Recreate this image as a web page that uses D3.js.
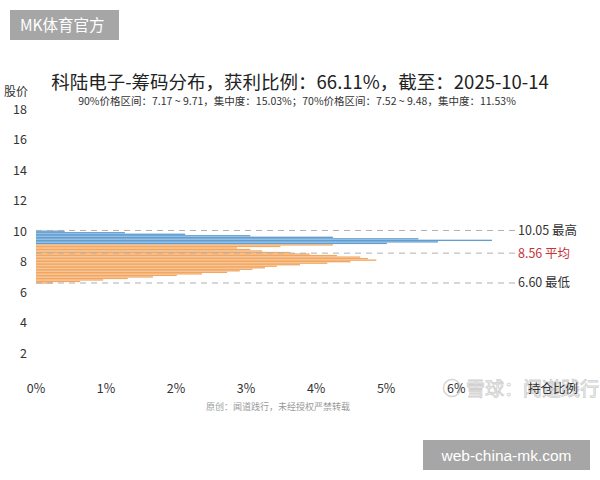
<!DOCTYPE html>
<html>
<head>
<meta charset="utf-8">
<script src="https://cdn.jsdelivr.net/npm/d3@7"></script>
<style>
  body { margin: 0; background: #fff; }
  svg { display: block; font-family: "Noto Sans CJK SC", "Noto Sans", sans-serif; }
</style>
</head>
<body>
<svg id="chart" width="600" height="480"></svg>
<script>
// chip distribution: price bins (step 0.1) and holding share in %
const prices = [6.6, 6.7, 6.8, 6.9, 7.0, 7.1, 7.2, 7.3, 7.4, 7.5, 7.6, 7.7, 7.8, 7.9, 8.0, 8.1, 8.2, 8.3,
                8.4, 8.5, 8.6, 8.7, 8.8, 8.9, 9.0, 9.1, 9.2, 9.3, 9.4, 9.5, 9.6, 9.7, 9.8, 9.9, 10.0];
const shares = [0.24, 0.63, 0.96, 1.31, 1.67, 2.01, 2.37, 2.73, 2.91, 3.09, 3.27, 3.44, 3.77, 4.16, 4.49, 4.86, 4.74, 4.63,
                4.30, 3.91, 3.63, 3.23, 3.06, 2.87, 3.49, 4.24, 5.01, 5.74, 6.51, 5.46, 4.24, 3.06, 2.13, 1.27, 0.41];
const currentPrice = 9.15;   // below = profit (orange), above = trapped (blue)

const markLines = [
  { value: 10.05, label: "10.05 最高", color: "#333" },
  { value: 8.56, label: "8.56 平均", color: "#c8323a" },
  { value: 6.60, label: "6.60 最低", color: "#333" }
];
const yTicks = [2, 4, 6, 8, 10, 12, 14, 16, 18];
const xTicks = [0, 1, 2, 3, 4, 5, 6];

const title = "科陆电子-筹码分布，获利比例：66.11%，截至：2025-10-14";
const subtitle = "90%价格区间：7.17 ~ 9.71，集中度：15.03%；70%价格区间：7.52 ~ 9.48，集中度：11.53%";

const svg = d3.select("#chart");

var x = d3.scaleLinear().domain([0, 6.84]).range([36, 515]);
var y = d3.scaleLinear().domain([0, 18]).range([383.5, 109.4]);
var bh = Math.abs(y(0) - y(0.1));

// watermark first, so the axis texts sit on top of it
svg.append("circle").attr("cx", 452).attr("cy", 388).attr("r", 8.5)
  .attr("fill", "none").attr("stroke", "#d4d4d4").attr("stroke-width", 1.5);
svg.append("text").attr("x", 466).attr("y", 396)
  .attr("font-size", 19).attr("fill", "#fff").attr("stroke", "#d0d0d0").attr("stroke-width", 0.9)
  .text("雪球：闻道践行");

// title
svg.append("text").attr("x", 300).attr("y", 89).attr("text-anchor", "middle")
  .attr("font-size", 18.5).attr("fill", "#222").text(title);
svg.append("text").attr("x", 297).attr("y", 104.5).attr("text-anchor", "middle")
  .attr("font-size", 10.5).attr("fill", "#333").text(subtitle);

// y axis
svg.append("text").attr("x", 16).attr("y", 96).attr("text-anchor", "middle")
  .attr("font-size", 12).attr("fill", "#333").text("股价");
svg.selectAll(".ytick").data(yTicks).enter().append("text")
  .attr("x", 27).attr("y", d => y(d) + 4.5).attr("text-anchor", "end")
  .attr("font-size", 12.5).attr("fill", "#333").text(d => d);

// x axis
svg.selectAll(".xtick").data(xTicks).enter().append("text")
  .attr("x", d => x(d)).attr("y", 393).attr("text-anchor", "middle")
  .attr("font-size", 12.5).attr("fill", "#333").text(d => d + "%");
svg.append("text").attr("x", 553).attr("y", 393).attr("text-anchor", "middle")
  .attr("font-size", 12.5).attr("fill", "#333").text("持仓比例");

// bars
svg.append("g").selectAll("rect")
  .data(prices.map((p, i) => ({ price: p, share: shares[i] })))
  .enter().append("rect")
  .attr("x", x(0))
  .attr("y", d => y(d.price) - bh / 2 + 0.1)
  .attr("width", d => x(d.share) - x(0))
  .attr("height", bh - 0.2)
  .attr("fill", d => d.price > currentPrice ? "#5f9dd2" : "#f2a65f");

// mark lines
markLines.forEach(m => {
  svg.append("line").attr("x1", x(0)).attr("x2", 515)
    .attr("y1", y(m.value)).attr("y2", y(m.value))
    .attr("stroke", "#b0b0b0").attr("stroke-width", 1).attr("stroke-dasharray", "6,5");
  svg.append("text").attr("x", 518).attr("y", y(m.value) + 4.5)
    .attr("font-size", 12.5).attr("fill", m.color).text(m.label);
});

// footnote + badges
svg.append("text").attr("x", 278).attr("y", 410).attr("text-anchor", "middle")
  .attr("font-size", 9).attr("fill", "#999").text("原创：闻道践行，未经授权严禁转载");

svg.append("rect").attr("x", 10).attr("y", 10).attr("width", 109).attr("height", 30).attr("fill", "#a6a6a6");
svg.append("text").attr("x", 20).attr("y", 31).attr("font-size", 15.5).attr("fill", "#fff").text("MK体育官方");

svg.append("rect").attr("x", 423).attr("y", 440).attr("width", 167).attr("height", 30).attr("fill", "#a6a6a6");
svg.append("text").attr("x", 506.5).attr("y", 461).attr("text-anchor", "middle")
  .attr("font-family", "Liberation Sans, Arial, sans-serif")
  .attr("font-size", 15.5).attr("fill", "#fff").text("web-china-mk.com");
</script>
</body>
</html>
